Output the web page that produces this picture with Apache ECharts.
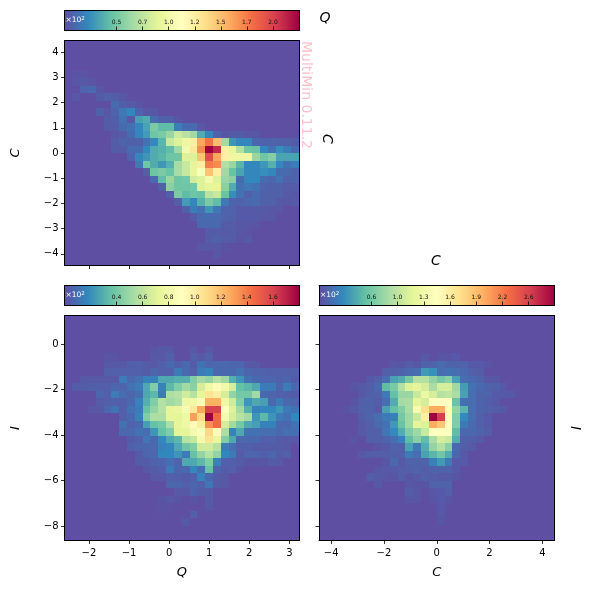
<!DOCTYPE html>
<html><head><meta charset="utf-8">
<style>html,body{margin:0;padding:0;background:#fff}#c{width:589px;height:590px}</style>
<script src="https://cdn.jsdelivr.net/npm/echarts@6/dist/echarts.min.js"></script>
</head><body><div id="c"></div>
<script>
// Each row (top to bottom) is [first non-empty column, ...counts]; other bins are empty.
const rowsQC = [[0],[0],[0],[0],[1,2,2],
[1,3,4,2],[2,8,10,3],[1,3,0,0,5,7,6,3],[6,11,6,5,2],[4,7,3,8,16,22,8,3,3],
[5,5,6,14,4,32,36,12,7,7,2],
[5,5,5,11,14,22,33,52,43,43,18,11,11,3],
[6,3,5,11,22,30,48,52,62,80,72,65,36,22,8,3,5,5,3,3],
[6,5,8,7,7,14,23,40,78,87,97,125,160,178,150,65,28,22,22,9,8,8,7,7,5],
[6,5,5,11,12,23,36,38,43,65,102,130,170,225,210,125,92,70,48,46,22,14,25,18,11],
[8,8,22,28,36,40,48,48,87,87,148,195,160,125,97,97,97,62,48,55,33,33,33],
[9,16,48,36,28,38,67,78,92,125,175,170,70,62,40,22,22,28,38,22,14,18],
[10,7,48,52,46,67,78,92,108,148,125,65,46,33,22,22,25,22,11,11,8],
[11,11,43,62,48,50,82,87,102,87,62,57,11,22,22,11,9,14,8,8],
[12,7,57,48,48,50,87,92,92,57,36,14,16,14,8,7,7,5,5],
[13,7,52,43,48,46,73,78,46,25,14,7,11,7,7,7,4,3],
[14,7,30,22,38,52,43,16,8,8,10,11,7,7,4,3,4],
[15,7,18,13,28,16,8,8,4,4,4,4,3,3],
[16,5,11,11,11,8,7,4,4,4,3,3],
[17,10,10,10,5,5,3,3,2],
[18,5,5,4,5,3,2],[18,5,7,5,5,2,4],[17,3,3,3,1],[19,3],[0]];

const rowsQI = [[0],[0],[0],[0],[11,2,3,3,0,0,3,0,3],
[5,2,2,0,0,0,0,3,3,5,0,0,5,3,5],
[5,3,3,3,5,5,4,3,5,8,5,8,4,11,7,8,8,7,7,3,3],
[5,5,5,5,5,5,4,7,5,5,14,8,5,14,16,8,8,8,11,7,6,6,5,5,5,5],
[2,3,3,3,3,3,14,8,11,16,16,28,28,30,30,43,52,48,57,50,30,22,11,8,7,7,5,7,4],
[1,4,4,5,5,5,7,7,11,14,28,43,16,33,43,52,46,67,80,92,80,67,36,33,28,14,14,7,14,8],
[4,7,5,14,9,7,10,28,33,14,55,57,65,57,73,105,100,67,48,40,40,52,8,7,5,5,4],
[4,4,5,5,5,8,16,30,43,57,52,55,78,80,87,125,125,78,65,43,22,28,25,8,14,8,7],
[3,3,3,8,11,5,11,14,36,48,57,73,75,84,103,128,160,160,88,70,52,30,16,18,18,22,14,11],
[7,5,8,16,43,55,55,73,72,78,130,110,180,145,82,67,58,52,22,33,22,14,11,18],
[7,11,6,8,25,36,40,55,73,78,92,100,135,145,67,52,40,28,25,16,16,8,8,11],
[7,8,8,11,9,22,36,43,72,73,82,88,110,88,55,16,28,11,11,10,10,8,10,10],
[8,4,5,12,8,18,28,33,58,62,82,105,75,43,28,8,8,8,5,5,4,3,3],
[8,5,7,7,8,16,18,28,38,43,65,65,57,14,10,5,5,4,4,4,4,3],
[9,4,7,8,18,18,22,14,36,48,57,48,18,14,4,7,7,5,7,4,5],
[9,4,4,6,7,10,7,28,28,33,43,16,5,5,4,2,2,2,4,3],
[10,3,4,5,14,7,8,18,10,36,7,4,5,2],
[11,3,3,5,5,4,5,16,8,4,3],
[13,7,7,5,7,5,12,4,3],
[14,3,3,7,4,4],
[12,2,3,2,0,2,0,4],
[12,1,1,0,0,0,0,3],
[12,1,0,0,0,5],
[15,3],[0],[0]];

const rowsCI = [[0],[0],[0],[0],[0],
[13,5,0,3,3,5],
[9,4,3,7,4,10,10,15,10,10,10,5,5,3],
[8,8,8,10,14,16,38,33,16,18,16,13,8,7],
[6,5,8,16,42,48,65,92,92,78,65,73,42,16,13,10,4,4],
[4,3,5,7,14,56,67,92,113,118,108,87,108,108,82,40,18,13,10,8,5],
[5,5,8,10,22,58,80,80,102,125,108,92,97,87,42,16,10,10,5,5,5],
[4,3,8,10,7,16,48,85,87,118,108,145,145,145,60,16,16,11,7,5],
[3,3,5,10,10,5,42,58,70,87,135,175,205,205,140,78,52,16,10,8,7,5],
[5,7,10,16,22,25,65,82,102,160,292,262,140,70,30,16,8,5],
[5,5,8,14,18,38,60,82,118,113,205,190,145,70,22,14,8,5],
[5,5,8,8,20,30,48,70,82,102,145,145,143,56,13,13,10,7],
[4,3,0,8,8,10,16,25,56,73,56,87,108,102,48,8,7,5],
[7,3,5,10,8,42,22,48,78,92,73,14,7,5],
[5,5,7,7,7,8,8,22,16,42,52,63,48,13,5],
[8,4,13,5,10,10,10,25,38,22,5,5],
[7,4,5,5,7,8,10,7,10,10,10,5],
[6,7,5,4,3,7,3,5,8,7,5,5,3],
[7,5,0,0,0,4,3,3,10,10,10],
[11,7,4,0,4,5,8],
[11,4,4,0,3,5,3],
[15,5],[15,5],[15,3],[0],[0]];

const rangeQ = [-2.61, 3.24];
const rangeC = [-4.46, 4.46];
const rangeI = [-8.63, 1.26];
const ticksQ = [-2,-1,0,1,2,3];
const ticksC = [-4,-2,0,2,4];
const ticksCy = [-4,-3,-2,-1,0,1,2,3,4];
const ticksI = [-8,-6,-4,-2,0];

const barMaxQC = 2.25, barTicksQC = [0.5,0.75,1,1.25,1.5,1.75,2], barLabelsQC = ['0.5','0.7','1.0','1.2','1.5','1.7','2.0'];
const barMaxQI = 1.8,  barTicksQI = [0.4,0.6,0.8,1,1.2,1.4,1.6], barLabelsQI = ['0.4','0.6','0.8','1.0','1.2','1.4','1.6'];
const barMaxCI = 2.92, barTicksCI = [0.65,0.975,1.3,1.625,1.95,2.275,2.6], barLabelsCI = ['0.6','1.0','1.3','1.6','1.9','2.2','2.6'];

const palette = ['#5e4fa2','#3288bd','#66c2a5','#abdda4','#e6f598','#ffffbf','#fee08b','#fdae61','#f46d43','#d53e4f','#9e0142'];
const FONT = '"DejaVu Sans"';
const fmt = v => String(v).replace('-', '\u2212');

const N = 30;
function toCells(rows, rx, ry) {
  const dx = (rx[1]-rx[0])/N, dy = (ry[1]-ry[0])/N, out = [];
  for (let r = 0; r < N; r++) {
    const row = rows[r] || [0];
    for (let c = 0; c < N; c++) {
      const i = c - row[0] + 1;
      const v = (i >= 1 && i < row.length) ? row[i] : 0;
      out.push([rx[0] + (c+.5)*dx, ry[1] - (r+.5)*dy, v]);
    }
  }
  return out;
}

const grid = [], xAxis = [], yAxis = [], series = [], visualMap = [];
const frame = {show:true, onZero:false, lineStyle:{color:'#000', width:1}};

function addAxes(g, rx, ry, xo, yo) {
  const gi = grid.length; grid.push(g);
  const none = {axisTick:{show:false}, axisLabel:{show:false}, splitLine:{show:false}};
  xAxis.push(Object.assign({gridIndex:gi, type:'value', min:rx[0], max:rx[1], position:'bottom', z:10, axisLine:frame, splitLine:{show:false}}, xo));
  xAxis.push(Object.assign({gridIndex:gi, type:'value', min:rx[0], max:rx[1], position:'top', z:10, axisLine:frame}, none));
  yAxis.push(Object.assign({gridIndex:gi, type:'value', min:ry[0], max:ry[1], position:'left', z:10, axisLine:frame, splitLine:{show:false}}, yo));
  yAxis.push(Object.assign({gridIndex:gi, type:'value', min:ry[0], max:ry[1], position:'right', z:10, axisLine:frame}, none));
  return {x:xAxis.length-2, y:yAxis.length-2};
}
function tickAxis(values, labelled, margin) {
  return {
    axisTick:{show:true, customValues:values, length:3.5, lineStyle:{color:'#000', width:0.8}},
    axisLabel:{show:labelled, customValues:values, formatter:fmt, fontFamily:FONT, fontSize:10, color:'#000', margin}
  };
}
function nameOf(name, gap, rot) {
  return {name, nameLocation:'middle', nameGap:gap, nameRotate:rot,
    nameTextStyle:{fontFamily:FONT, fontStyle:'italic', fontSize:13, color:'#000'}};
}
function panel(rows, rx, ry, g, xt, yt, xl, yl, vmax, xn, yn) {
  const a = addAxes(g, rx, ry, Object.assign(tickAxis(xt,xl,7.5), xn||{}), Object.assign(tickAxis(yt,yl,6), yn||{}));
  const dx = (rx[1]-rx[0])/N, dy = (ry[1]-ry[0])/N;
  const si = series.length;
  series.push({
    type:'custom', xAxisIndex:a.x, yAxisIndex:a.y, clip:true, silent:true, animation:false,
    encode:{x:0,y:1}, data:toCells(rows, rx, ry),
    renderItem:(p, api) => {
      const x = api.value(0), y = api.value(1);
      const p0 = api.coord([x-dx/2, y+dy/2]), p1 = api.coord([x+dx/2, y-dy/2]);
      const x0 = Math.round(p0[0]), y0 = Math.round(p0[1]);
      return {type:'rect', shape:{x:x0, y:y0, width:Math.round(p1[0])-x0, height:Math.round(p1[1])-y0},
        style:{fill:api.visual('color')}};
    }
  });
  visualMap.push({show:false, type:'continuous', seriesIndex:si, dimension:2, min:0, max:vmax, inRange:{color:palette}});
}
function colorBar(g, vmax, ticks, labels) {
  const a = addAxes(g, [0,vmax], [0,1], {
    axisTick:{show:true, inside:true, customValues:ticks, length:4, lineStyle:{color:'#000', width:0.8}},
    axisLabel:{show:true, inside:true, customValues:ticks, margin:5.5, fontFamily:FONT, fontSize:6, color:'#111',
      formatter:v => labels[ticks.findIndex(t => Math.abs(t-v) < 1e-6)]}
  }, {axisTick:{show:false}, axisLabel:{show:false}});
  series.push({
    type:'custom', xAxisIndex:a.x, yAxisIndex:a.y, silent:true, animation:false, encode:{x:0,y:1}, data:[[0,0,vmax,1]],
    renderItem:(p, api) => {
      const p0 = api.coord([api.value(0), api.value(3)]), p1 = api.coord([api.value(2), api.value(1)]);
      return {type:'rect', shape:{x:p0[0], y:p0[1], width:p1[0]-p0[0], height:p1[1]-p0[1]},
        style:{fill:{type:'linear', x:0, y:0, x2:1, y2:0,
          colorStops:palette.map((color,i)=>({offset:i/(palette.length-1), color}))}}};
    }
  });
}

const L1 = 64.5, L2 = 319, W1 = 234.5, W2 = 235.5, H = 225, T1 = 40.5, T2 = 315.5, BH = 20;
panel(rowsQC, rangeQ, rangeC, {left:L1, top:T1, width:W1, height:H}, ticksQ, ticksCy, false, true, barMaxQC*100,
  null, nameOf('C', 42, 90));
panel(rowsQI, rangeQ, rangeI, {left:L1, top:T2, width:W1, height:H}, ticksQ, ticksI, true, true, barMaxQI*100,
  nameOf('Q', 26, 0), nameOf('I', 42, 90));
panel(rowsCI, rangeC, rangeI, {left:L2, top:T2, width:W2, height:H}, ticksC, ticksI, true, false, barMaxCI*100,
  nameOf('C', 26, 0), null);
colorBar({left:L1, top:10.5, width:W1, height:BH}, barMaxQC, barTicksQC, barLabelsQC);
colorBar({left:L1, top:285.5, width:W1, height:BH}, barMaxQI, barTicksQI, barLabelsQI);
colorBar({left:L2, top:285.5, width:W2, height:BH}, barMaxCI, barTicksCI, barLabelsCI);

const mult = (x,y) => ({type:'text', left:x, top:y, z:50, silent:true, style:{
  rich:{a:{fontFamily:FONT, fontSize:7.5, fill:'#fff', color:'#fff'}, b:{fontFamily:FONT, fontSize:5.5, fill:'#fff', color:'#fff', verticalAlign:'top', lineHeight:9}},
  text:'{a|\u00d710}{b|2}'}});
const label = (t,x,y,rot,size,fill) => ({type:'text', x, y, rotation:rot, z:50, silent:true, style:{
  text:t, fontFamily:FONT, fontStyle:fill ? 'normal':'italic', fontSize:size, fill:fill||'#000', align:'center', verticalAlign:'middle'}});

const chart = echarts.init(document.getElementById('c'), null, {renderer:'canvas'});
chart.setOption({
  animation:false, backgroundColor:'#fff', grid, xAxis, yAxis, series, visualMap,
  graphic:[
    mult(65.5,15.5), mult(65.5,290.5), mult(320,290.5),
    label('Q',325,18,0,14),
    label('C',327,139,-Math.PI/2,14),
    label('C',436,261,0,14),
    label('I',575,428,-Math.PI/2,14),
    label('MultiMin 0.11.2',306,95,-Math.PI/2,14,'#ffc0cb')
  ]
});
</script></body></html>
